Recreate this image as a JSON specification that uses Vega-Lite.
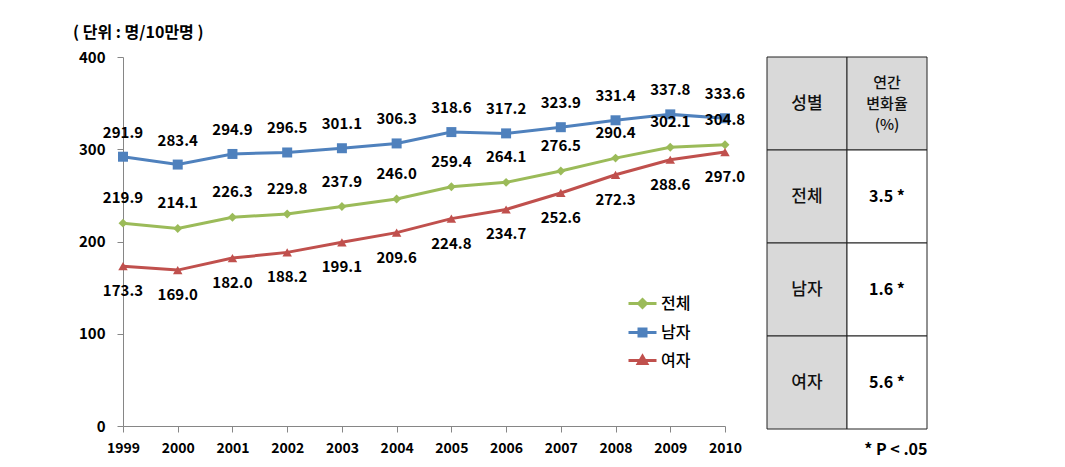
{
  "$schema": "https://vega.github.io/schema/vega-lite/v6.json",
  "padding": {"left": 73, "top": 25, "right": 5, "bottom": 5},
  "background": "white",
  "bounds": "flush",
  "spacing": 42,
  "config": {
    "view": {"stroke": null},
    "font": "Noto Sans CJK KR"
  },
  "datasets": {
    "rates": [
      {"연도": 1999, "성별": "전체", "값": 219.9},
      {"연도": 2000, "성별": "전체", "값": 214.1},
      {"연도": 2001, "성별": "전체", "값": 226.3},
      {"연도": 2002, "성별": "전체", "값": 229.8},
      {"연도": 2003, "성별": "전체", "값": 237.9},
      {"연도": 2004, "성별": "전체", "값": 246.0},
      {"연도": 2005, "성별": "전체", "값": 259.4},
      {"연도": 2006, "성별": "전체", "값": 264.1},
      {"연도": 2007, "성별": "전체", "값": 276.5},
      {"연도": 2008, "성별": "전체", "값": 290.4},
      {"연도": 2009, "성별": "전체", "값": 302.1},
      {"연도": 2010, "성별": "전체", "값": 304.8},
      {"연도": 1999, "성별": "남자", "값": 291.9},
      {"연도": 2000, "성별": "남자", "값": 283.4},
      {"연도": 2001, "성별": "남자", "값": 294.9},
      {"연도": 2002, "성별": "남자", "값": 296.5},
      {"연도": 2003, "성별": "남자", "값": 301.1},
      {"연도": 2004, "성별": "남자", "값": 306.3},
      {"연도": 2005, "성별": "남자", "값": 318.6},
      {"연도": 2006, "성별": "남자", "값": 317.2},
      {"연도": 2007, "성별": "남자", "값": 323.9},
      {"연도": 2008, "성별": "남자", "값": 331.4},
      {"연도": 2009, "성별": "남자", "값": 337.8},
      {"연도": 2010, "성별": "남자", "값": 333.6},
      {"연도": 1999, "성별": "여자", "값": 173.3},
      {"연도": 2000, "성별": "여자", "값": 169.0},
      {"연도": 2001, "성별": "여자", "값": 182.0},
      {"연도": 2002, "성별": "여자", "값": 188.2},
      {"연도": 2003, "성별": "여자", "값": 199.1},
      {"연도": 2004, "성별": "여자", "값": 209.6},
      {"연도": 2005, "성별": "여자", "값": 224.8},
      {"연도": 2006, "성별": "여자", "값": 234.7},
      {"연도": 2007, "성별": "여자", "값": 252.6},
      {"연도": 2008, "성별": "여자", "값": 272.3},
      {"연도": 2009, "성별": "여자", "값": 288.6},
      {"연도": 2010, "성별": "여자", "값": 297.0}
    ],
    "table": [
      {"행": "머리", "열": "성별", "내용": "성별"},
      {"행": "머리", "열": "변화율", "내용": "연간\n변화율\n(%)"},
      {"행": "전체", "열": "성별", "내용": "전체"},
      {"행": "전체", "열": "변화율", "내용": "3.5 *"},
      {"행": "남자", "열": "성별", "내용": "남자"},
      {"행": "남자", "열": "변화율", "내용": "1.6 *"},
      {"행": "여자", "열": "성별", "내용": "여자"},
      {"행": "여자", "열": "변화율", "내용": "5.6 *"}
    ]
  },
  "hconcat": [
    {
      "width": 602,
      "height": 369,
      "data": {"name": "rates"},
      "title": {
        "text": "( 단위 : 명/10만명 )",
        "anchor": "start",
        "frame": "group",
        "dx": -50,
        "offset": 9,
        "fontSize": 16,
        "fontWeight": "bold",
        "color": "black"
      },
      "encoding": {
        "x": {
          "field": "연도",
          "type": "quantitative",
          "scale": {"domain": [1999, 2010], "nice": false, "zero": false},
          "axis": {
            "title": null,
            "values": [1999, 2000, 2001, 2002, 2003, 2004, 2005, 2006, 2007, 2008, 2009, 2010],
            "format": "d",
            "grid": false,
            "labelFlush": false,
            "labelOverlap": false,
            "domainColor": "#868686",
            "tickColor": "#868686",
            "tickSize": 6,
            "labelPadding": 9,
            "labelFontSize": 14,
            "labelFontWeight": "bold",
            "labelColor": "black"
          }
        },
        "y": {
          "field": "값",
          "type": "quantitative",
          "scale": {"domain": [0, 400], "nice": false},
          "axis": {
            "title": null,
            "values": [0, 100, 200, 300, 400],
            "grid": false,
            "domainColor": "#868686",
            "tickColor": "#868686",
            "tickSize": 6,
            "labelPadding": 12,
            "labelFontSize": 15,
            "labelFontWeight": "bold",
            "labelColor": "black"
          }
        }
      },
      "layer": [
        {
          "mark": {"type": "line", "strokeWidth": 3},
          "encoding": {
            "color": {
              "field": "성별",
              "type": "nominal",
              "scale": {"domain": ["전체", "남자", "여자"], "range": ["#9BBB59", "#4F81BD", "#C0504D"]},
              "legend": {
                "title": null,
                "orient": "none",
                "legendX": 504,
                "legendY": 231,
                "symbolSize": 784,
                "rowPadding": 3,
                "labelOffset": 3,
                "labelFontSize": 16,
                "labelColor": "black",
                "labelFontWeight": 500,
                "encode": {
                  "symbols": {
                    "update": {
                      "shape": {"signal": "datum.value === '남자' ? 'M-1,0H1M-0.25,-0.25H0.25V0.25H-0.25Z' : (datum.value === '여자' ? 'M-1,0H1M0,-0.3L0.3,0.22H-0.3Z' : 'M-1,0H1M0,-0.28L0.28,0L0,0.28L-0.28,0Z')"},
                      "fill": {"scale": "color", "field": "value"},
                      "stroke": {"scale": "color", "field": "value"},
                      "strokeWidth": {"value": 3},
                      "opacity": {"value": 1}
                    }
                  }
                }
              }
            }
          }
        },
        {
          "transform": [{"filter": "datum['성별'] === '전체'"}],
          "mark": {"type": "point", "filled": true, "opacity": 1, "size": 80, "shape": "diamond"},
          "encoding": {"color": {"field": "성별", "type": "nominal", "legend": null}}
        },
        {
          "transform": [{"filter": "datum['성별'] === '남자'"}],
          "mark": {"type": "point", "filled": true, "opacity": 1, "size": 100, "shape": "square"},
          "encoding": {"color": {"field": "성별", "type": "nominal", "legend": null}}
        },
        {
          "transform": [{"filter": "datum['성별'] === '여자'"}],
          "mark": {"type": "point", "filled": true, "opacity": 1, "size": 90, "shape": "triangle-up"},
          "encoding": {"color": {"field": "성별", "type": "nominal", "legend": null}}
        },
        {
          "transform": [{"filter": "datum['성별'] === '남자'"}],
          "mark": {"type": "text", "dy": -24, "fontSize": 15, "fontWeight": "bold", "color": "black"},
          "encoding": {"text": {"field": "값", "type": "quantitative", "format": ".1f"}}
        },
        {
          "transform": [{"filter": "datum['성별'] === '전체'"}],
          "mark": {"type": "text", "dy": -25, "fontSize": 15, "fontWeight": "bold", "color": "black"},
          "encoding": {"text": {"field": "값", "type": "quantitative", "format": ".1f"}}
        },
        {
          "transform": [{"filter": "datum['성별'] === '여자'"}],
          "mark": {"type": "text", "dy": 25, "fontSize": 15, "fontWeight": "bold", "color": "black"},
          "encoding": {"text": {"field": "값", "type": "quantitative", "format": ".1f"}}
        }
      ]
    },
    {
      "width": 160,
      "height": 372,
      "data": {"name": "table"},
      "title": {
        "text": "* P < .05",
        "orient": "bottom",
        "anchor": "end",
        "offset": 12,
        "fontSize": 16,
        "fontWeight": "bold",
        "color": "black"
      },
      "encoding": {
        "x": {"field": "열", "type": "nominal", "sort": ["성별", "변화율"], "scale": {"paddingInner": 0, "paddingOuter": 0}, "axis": null},
        "y": {"field": "행", "type": "nominal", "sort": ["머리", "전체", "남자", "여자"], "scale": {"paddingInner": 0, "paddingOuter": 0}, "axis": null}
      },
      "layer": [
        {
          "mark": {"type": "rect", "stroke": "#222222", "strokeWidth": 1},
          "encoding": {
            "color": {
              "condition": {"test": "datum['열'] === '성별' || datum['행'] === '머리'", "value": "#D9D9D9"},
              "value": "white"
            }
          }
        },
        {
          "transform": [{"filter": "datum['열'] === '성별'"}],
          "mark": {"type": "text", "fontSize": 17, "fontWeight": 500, "color": "#111111"},
          "encoding": {"text": {"field": "내용", "type": "nominal"}}
        },
        {
          "transform": [{"filter": "datum['열'] === '변화율' && datum['행'] === '머리'"}],
          "mark": {"type": "text", "fontSize": 15, "fontWeight": 500, "color": "#111111", "lineBreak": "\n", "lineHeight": 21, "dy": -21},
          "encoding": {"text": {"field": "내용", "type": "nominal"}}
        },
        {
          "transform": [{"filter": "datum['열'] === '변화율' && datum['행'] !== '머리'"}],
          "mark": {"type": "text", "fontSize": 16, "fontWeight": "bold", "color": "black"},
          "encoding": {"text": {"field": "내용", "type": "nominal"}}
        }
      ]
    }
  ]
}
